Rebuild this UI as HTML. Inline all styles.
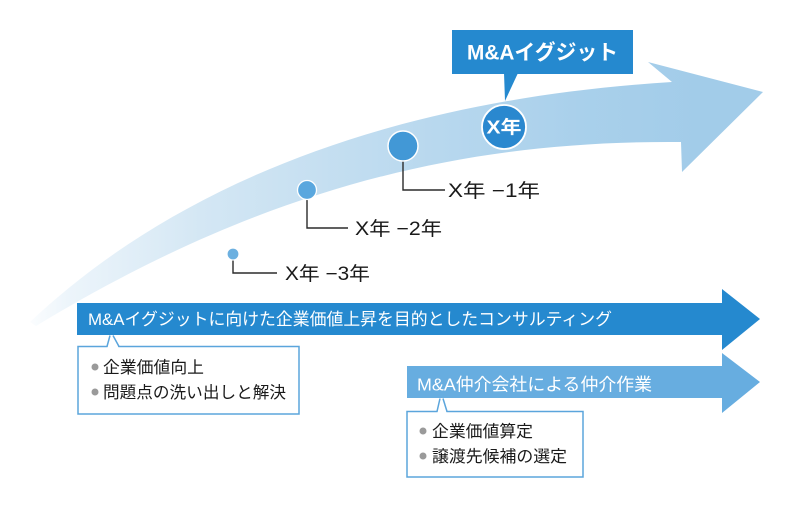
<!DOCTYPE html>
<html>
<head>
<meta charset="utf-8">
<style>
  html,body{margin:0;padding:0;background:#ffffff;}
  svg{display:block;}
  text{font-family:"Liberation Sans","Noto Sans CJK JP",sans-serif;}
</style>
</head>
<body>
<svg width="800" height="509" viewBox="0 0 800 509" xmlns="http://www.w3.org/2000/svg">
  <defs>
    <linearGradient id="g" gradientUnits="userSpaceOnUse" x1="30" y1="0" x2="700" y2="0">
      <stop offset="0" stop-color="#fbfdfe"/>
      <stop offset="0.055" stop-color="#edf5fb"/>
      <stop offset="0.254" stop-color="#d4e7f4"/>
      <stop offset="0.552" stop-color="#bcdaef"/>
      <stop offset="0.82" stop-color="#a9d0eb"/>
      <stop offset="1" stop-color="#a2cce9"/>
    </linearGradient>
  </defs>

  <!-- big curved arrow -->
  <path d="M30,322 C170,190 380,100 672,82 L648,62 L763,92 L682,172 L681,142 C460,140 260,190 36,326 Z" fill="url(#g)"/>

  <!-- M&A exit callout -->
  <rect x="452" y="30" width="181" height="44" fill="#2589cf"/>
  <polygon points="504,73 518,73 505,101" fill="#2589cf"/>
  <text x="542.5" y="59.5" font-size="21" font-weight="bold" fill="#ffffff" text-anchor="middle" textLength="151" lengthAdjust="spacingAndGlyphs">M&amp;Aイグジット</text>

  <!-- connectors -->
  <g stroke="#2b2b2b" stroke-width="1.4" fill="none">
    <polyline points="403,160 403,190 445,190"/>
    <polyline points="307,199 307,228 348,228"/>
    <polyline points="233,259 233,273 277,273"/>
  </g>

  <!-- circles -->
  <circle cx="233" cy="254" r="6" fill="#6cb0e0" stroke="#ffffff" stroke-width="1.2"/>
  <circle cx="307" cy="190" r="9.5" fill="#5aa7de" stroke="#ffffff" stroke-width="1.3"/>
  <circle cx="403" cy="146" r="15" fill="#4298d6" stroke="#ffffff" stroke-width="1.5"/>
  <circle cx="504" cy="127" r="22" fill="#2a88cf" stroke="#ffffff" stroke-width="1.8"/>
  <text x="504" y="133.5" font-size="18" font-weight="bold" fill="#ffffff" text-anchor="middle" textLength="35" lengthAdjust="spacingAndGlyphs">X年</text>

  <!-- year labels -->
  <text x="448" y="197" font-size="19" fill="#1a1a1a" textLength="92" lengthAdjust="spacingAndGlyphs">X年 −1年</text>
  <text x="355" y="235" font-size="19" fill="#1a1a1a" textLength="87" lengthAdjust="spacingAndGlyphs">X年 −2年</text>
  <text x="285" y="280" font-size="19" fill="#1a1a1a" textLength="85" lengthAdjust="spacingAndGlyphs">X年 −3年</text>

  <!-- dark arrow -->
  <polygon points="77,303 722,303 722,289 760,319 722,350 722,335 77,335" fill="#2589cf"/>
  <text x="88" y="325" font-size="17" fill="#ffffff" textLength="524" lengthAdjust="spacingAndGlyphs">M&amp;Aイグジットに向けた企業価値上昇を目的としたコンサルティング</text>

  <!-- light arrow -->
  <polygon points="407,366 722,366 722,353 760,382 722,413 722,398 407,398" fill="#67ade0"/>
  <text x="417" y="390.5" font-size="17.5" fill="#ffffff" textLength="235" lengthAdjust="spacingAndGlyphs">M&amp;A仲介会社による仲介作業</text>

  <!-- callout box 1 -->
  <rect x="78" y="346.5" width="221" height="67.5" fill="#ffffff" stroke="#5ba5dc" stroke-width="1.5"/>
  <polygon points="107.5,347.5 110,335 113,335 118.5,347.5" fill="#ffffff"/>
  <polyline points="107,346.5 110,335.5" stroke="#5ba5dc" stroke-width="1.5" fill="none"/>
  <polyline points="119,346.5 113,335.5" stroke="#5ba5dc" stroke-width="1.5" fill="none"/>
  <circle cx="95" cy="367" r="3.5" fill="#9a9a9a"/>
  <circle cx="95" cy="392" r="3.5" fill="#9a9a9a"/>
  <text x="103" y="373" font-size="16.5" fill="#1a1a1a" textLength="101" lengthAdjust="spacingAndGlyphs">企業価値向上</text>
  <text x="103" y="398" font-size="16.5" fill="#1a1a1a" textLength="183" lengthAdjust="spacingAndGlyphs">問題点の洗い出しと解決</text>

  <!-- callout box 2 -->
  <rect x="407" y="411.5" width="176" height="65.5" fill="#ffffff" stroke="#5ba5dc" stroke-width="1.5"/>
  <polygon points="437.5,412.5 440,398 443,398 446.5,412.5" fill="#ffffff"/>
  <polyline points="437,411.5 440,398.5" stroke="#5ba5dc" stroke-width="1.5" fill="none"/>
  <polyline points="447,411.5 443,398.5" stroke="#5ba5dc" stroke-width="1.5" fill="none"/>
  <circle cx="423" cy="431" r="3.5" fill="#9a9a9a"/>
  <circle cx="423" cy="456" r="3.5" fill="#9a9a9a"/>
  <text x="432" y="437" font-size="16.5" fill="#1a1a1a" textLength="101" lengthAdjust="spacingAndGlyphs">企業価値算定</text>
  <text x="432" y="462" font-size="16.5" fill="#1a1a1a" textLength="135" lengthAdjust="spacingAndGlyphs">譲渡先候補の選定</text>
</svg>
</body>
</html>
